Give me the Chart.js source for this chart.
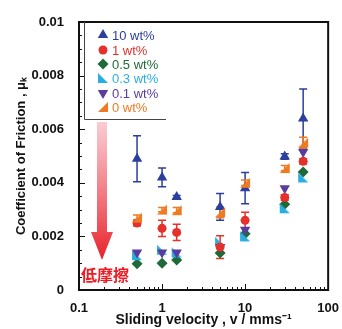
<!DOCTYPE html>
<html>
<head>
<meta charset="utf-8">
<script src="https://cdn.jsdelivr.net/npm/chart.js@4.4.0/dist/chart.umd.min.js"></script>
<style>
  html, body { margin: 0; padding: 0; background: #fff; }
  #wrap { width: 342px; height: 329px; position: relative; }
</style>
</head>
<body>
<div id="wrap"><canvas id="friction"></canvas></div>
<script>
// sliding velocities (mm/s)
const velocity = [0.5, 1, 1.5, 5, 10, 30, 50];

// friction coefficient per concentration
const mu10 = [0.0049, 0.0042, 0.00347, 0.0031, 0.0038, 0.00498, 0.0064];
const mu1 = [0.0025, 0.0023, 0.00215, 0.0016, 0.0026, 0.00345, 0.0048];
const mu05 = [0.00098, 0.001, 0.00112, 0.00138, 0.0021, 0.0032, 0.0044];
const mu03 = [0.0013, 0.0015, 0.0014, 0.0018, 0.002, 0.00305, 0.0042];
const mu01 = [0.0014, 0.0014, 0.0014, 0.0016, 0.00225, 0.0038, 0.00515];
const mu0 = [0.0027, 0.003, 0.00298, 0.0029, 0.004, 0.00455, 0.0055];

// error bar half widths
const err10 = [0.00086, 0.00035, 0.00006, 0.0005, 0.00058, 0.0001, 0.0011];
const err1 = [0.0001, 0.0003, 0.0003, 0.00042, 0.0003, 0.0001, 0.0001];
const err0 = [0.0001, 0.00008, 0.0001, 0.0002, 0.0001, 0.0001, 0.0002];

const yTicks = [0, 0.002, 0.004, 0.006, 0.008, 0.01];
const xTicks = [0.1, 1, 10, 100];

const labels = ['10 wt%', '1 wt%', '0.5 wt%', '0.3 wt%', '0.1 wt%', '0 wt%'];
const colors = ['#2b3f9c', '#e5302b', '#1f6a38', '#2aaee2', '#5a3c9e', '#ef7a22'];

function rightTriangle(color, corner) {
  const c = document.createElement('canvas');
  c.width = 12; c.height = 12;
  const g = c.getContext('2d');
  g.fillStyle = color;
  g.beginPath();
  if (corner === 'left') {
    g.moveTo(1, 1); g.lineTo(1, 11); g.lineTo(11, 11);
  } else {
    g.moveTo(11, 1); g.lineTo(11, 11); g.lineTo(1, 11);
  }
  g.closePath();
  g.fill();
  return c;
}

const styles = [
  {pointStyle: 'triangle', radius: 6, rotation: 0},
  {pointStyle: 'circle', radius: 4.5, rotation: 0},
  {pointStyle: 'rectRot', radius: 5.5, rotation: 0},
  {pointStyle: rightTriangle(colors[3], 'left'), radius: 6, rotation: 0},
  {pointStyle: 'triangle', radius: 6, rotation: 180},
  {pointStyle: rightTriangle(colors[5], 'right'), radius: 6, rotation: 0}
];

const series = [mu10, mu1, mu05, mu03, mu01, mu0];
const errors = [err10, err1, null, null, null, err0];
const drawOrder = [2, 3, 6, 5, 4, 1];

const datasets = series.map((s, i) => ({
  label: labels[i],
  data: velocity.map((v, j) => ({x: v, y: s[j]})),
  errors: errors[i],
  showLine: false,
  order: drawOrder[i],
  backgroundColor: colors[i],
  borderColor: colors[i],
  borderWidth: 0,
  pointStyle: styles[i].pointStyle,
  pointRadius: styles[i].radius,
  pointRotation: styles[i].rotation
}));

const errorBars = {
  id: 'errorBars',
  beforeDatasetsDraw(chart) {
    const {ctx, scales: {x, y}} = chart;
    ctx.save();
    ctx.lineWidth = 1.5;
    chart.data.datasets.forEach(ds => {
      if (!ds.errors) return;
      ctx.strokeStyle = ds.borderColor;
      ds.data.forEach((p, j) => {
        const e = ds.errors[j];
        const px = x.getPixelForValue(p.x);
        const top = y.getPixelForValue(p.y + e);
        const bot = y.getPixelForValue(p.y - e);
        ctx.beginPath();
        ctx.moveTo(px, top); ctx.lineTo(px, bot);
        ctx.moveTo(px - 4, top); ctx.lineTo(px + 4, top);
        ctx.moveTo(px - 4, bot); ctx.lineTo(px + 4, bot);
        ctx.stroke();
      });
    });
    ctx.restore();
  }
};

const frame = {
  id: 'frame',
  afterDraw(chart) {
    const {ctx, chartArea: a, scales: {x, y}} = chart;
    ctx.save();
    ctx.strokeStyle = '#111';
    ctx.lineWidth = 1;
    // inward ticks
    ctx.beginPath();
    for (let i = 0; i <= 20; i++) {
      const py = Math.round(y.getPixelForValue(i * 0.0005)) + 0.5;
      const len = i % 4 === 0 ? 6 : 3;
      ctx.moveTo(a.left, py); ctx.lineTo(a.left + len, py);
    }
    for (let d = -1; d <= 1; d++) {
      for (let m = 1; m <= 9; m++) {
        const px = Math.round(x.getPixelForValue(m * Math.pow(10, d))) + 0.5;
        const len = m === 1 ? 6 : 3;
        ctx.moveTo(px, a.bottom); ctx.lineTo(px, a.bottom - len);
      }
    }
    ctx.stroke();
    ctx.lineWidth = 2;
    ctx.strokeRect(a.left, a.top, a.right - a.left, a.bottom - a.top);

    // legend box
    ctx.lineWidth = 1;
    ctx.strokeStyle = '#444';
    ctx.beginPath();
    ctx.moveTo(84.5, a.top); ctx.lineTo(84.5, 119.5); ctx.lineTo(166, 119.5);
    ctx.stroke();
    ctx.font = '13px "Liberation Sans", Arial, sans-serif';
    ctx.textBaseline = 'middle';
    const rows = [35, 50, 64, 78, 93, 107];
    chart.data.datasets.forEach((ds, i) => {
      ctx.fillStyle = ds.backgroundColor;
      ctx.strokeStyle = ds.backgroundColor;
      Chart.helpers.drawPoint(ctx, {
        pointStyle: ds.pointStyle, radius: ds.pointRadius, rotation: ds.pointRotation,
        borderWidth: 0
      }, 103, rows[i]);
      ctx.fillText(ds.label, 112, rows[i] + 1);
    });

    // low-friction arrow
    const grad = ctx.createLinearGradient(0, 122, 0, 260);
    grad.addColorStop(0, 'rgba(250,190,200,0.8)');
    grad.addColorStop(1, '#e8202a');
    ctx.fillStyle = grad;
    ctx.beginPath();
    ctx.moveTo(97, 122); ctx.lineTo(107, 122); ctx.lineTo(107, 232);
    ctx.lineTo(113, 232); ctx.lineTo(102, 260); ctx.lineTo(91, 232);
    ctx.lineTo(97, 232);
    ctx.closePath();
    ctx.fill();
    ctx.fillStyle = '#ec1c24';
    ctx.font = 'bold 16px "Noto Sans CJK JP"';
    ctx.textAlign = 'left';
    ctx.fillText('低摩擦', 81, 275);
    ctx.restore();
  }
};

new Chart(document.getElementById('friction'), {
  type: 'scatter',
  data: {datasets: datasets},
  options: {
    responsive: true,
    maintainAspectRatio: false,
    animation: false,
    layout: {padding: {top: 22, right: 10, left: 0, bottom: 0}},
    plugins: {legend: {display: false}, tooltip: {enabled: false}},
    scales: {
      x: {
        type: 'logarithmic',
        min: 0.1,
        max: 100,
        grid: {display: false},
        border: {display: false},
        afterBuildTicks: s => { s.ticks = xTicks.map(v => ({value: v})); },
        afterFit: s => { s.height = 39; },
        ticks: {
          autoSkip: false,
          maxRotation: 0,
          padding: 3,
          color: '#111',
          font: {family: '"Liberation Sans", Arial', size: 13, weight: 'bold'},
          callback: v => String(v)
        },
        title: {
          display: true,
          text: 'Sliding velocity , v / mms⁻¹',
          color: '#111',
          padding: {top: 0, bottom: 0},
          font: {family: '"Liberation Sans", Arial', size: 14, weight: 'bold'}
        }
      },
      y: {
        min: 0,
        max: 0.01,
        grid: {display: false},
        border: {display: false},
        afterBuildTicks: s => { s.ticks = yTicks.map(v => ({value: v})); },
        afterFit: s => { s.width = 79; },
        ticks: {
          padding: 7,
          color: '#111',
          font: {family: '"Liberation Sans", Arial', size: 13, weight: 'bold'},
          callback: v => String(+v.toFixed(4))
        },
        title: {
          display: true,
          text: 'Coefficient of Friction , μₖ',
          color: '#111',
          padding: {top: 14, bottom: 0},
          font: {family: '"Liberation Sans", Arial', size: 13, weight: 'bold'}
        }
      }
    }
  },
  plugins: [errorBars, frame]
});
</script>
</body>
</html>
